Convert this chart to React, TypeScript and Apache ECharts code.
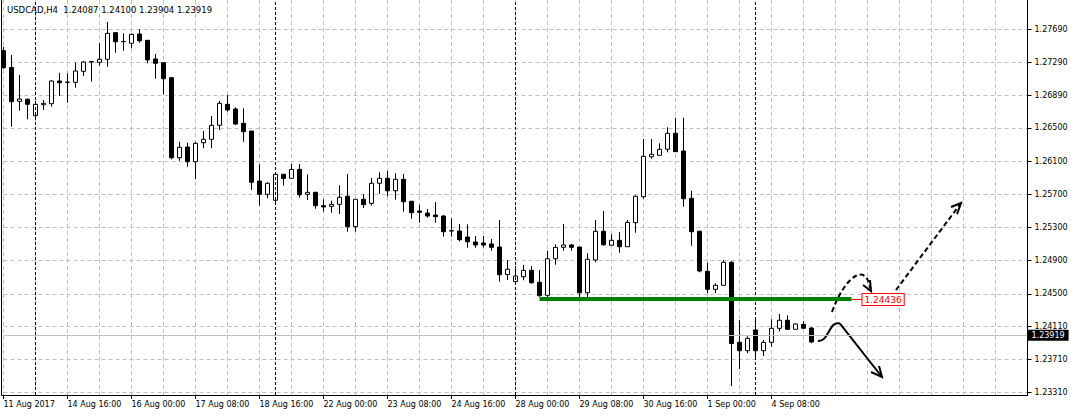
import { useEffect, useRef } from "react";
import * as echarts from "echarts";

// ---------------- data ----------------
const symbolName = "USDCAD,H4";
const firstBarUTC = Date.UTC(2017, 7, 11, 8); // 11 Aug 2017 08:00, H4 bars
const slotCount = 129; // bars + empty right margin (chart shift)

const opens = [
  1.27432, 1.2723, 1.26821, 1.26846, 1.26648, 1.2678, 1.26792, 1.27066, 1.2705, 1.2705,
  1.27183, 1.27295, 1.27292, 1.27328, 1.27649, 1.2754, 1.27521, 1.27633, 1.27557, 1.27332,
  1.27287, 1.27106, 1.26141, 1.2627, 1.26093, 1.26322, 1.26363, 1.26532, 1.26785, 1.26729,
  1.26556, 1.26463, 1.2586, 1.257, 1.25628, 1.25941, 1.25893, 1.26001, 1.257, 1.25724,
  1.25563, 1.25555, 1.25579, 1.25676, 1.25309, 1.2564, 1.25591, 1.25833, 1.25893, 1.25743,
  1.25881, 1.25616, 1.25499, 1.25474, 1.2545, 1.25438, 1.25261, 1.25257, 1.25185, 1.25125,
  1.25113, 1.25101, 1.25064, 1.24733, 1.24648, 1.24706, 1.24783, 1.24639, 1.24482, 1.24923,
  1.25061, 1.25089, 1.25064, 1.24513, 1.24908, 1.25254, 1.25085, 1.25145, 1.25068, 1.25358,
  1.25671, 1.26153, 1.2617, 1.26243, 1.26436, 1.26222, 1.25652, 1.25254, 1.24771, 1.24554,
  1.24603, 1.2488, 1.23915, 1.23814, 1.24064, 1.23814, 1.23915, 1.24084, 1.24181, 1.24072,
  1.24132, 1.24087,
];
const highs = [
  1.27476, 1.2738, 1.27139, 1.26855, 1.26825, 1.26837, 1.27078, 1.27166, 1.27159, 1.27287,
  1.27307, 1.27307, 1.27521, 1.27778, 1.27654, 1.27641, 1.27641, 1.2769, 1.27561, 1.27392,
  1.27295, 1.27115, 1.26334, 1.26322, 1.26334, 1.26463, 1.26644, 1.26825, 1.26897, 1.26749,
  1.26737, 1.26463, 1.26062, 1.25845, 1.25953, 1.25945, 1.26065, 1.26065, 1.25941, 1.25731,
  1.2564, 1.25623, 1.25809, 1.25945, 1.2564, 1.25704, 1.25897, 1.25965, 1.25981, 1.25953,
  1.25945, 1.25616, 1.25575, 1.25523, 1.25607, 1.2545, 1.25411, 1.25342, 1.25338, 1.25197,
  1.25197, 1.25161, 1.2539, 1.24908, 1.24835, 1.24851, 1.24835, 1.24787, 1.2502, 1.25097,
  1.25342, 1.25101, 1.25064, 1.24989, 1.2539, 1.25499, 1.25218, 1.25245, 1.2539, 1.25688,
  1.26367, 1.26367, 1.26315, 1.26508, 1.26624, 1.26624, 1.25743, 1.25261, 1.24875, 1.24627,
  1.24908, 1.24896, 1.24184, 1.23988, 1.24193, 1.23943, 1.24193, 1.24257, 1.24241, 1.24144,
  1.24172, 1.241,
];
const lows = [
  1.27211, 1.26515, 1.26708, 1.26604, 1.26608, 1.26717, 1.26756, 1.26885, 1.26805, 1.26985,
  1.27127, 1.27058, 1.27251, 1.27239, 1.27408, 1.27432, 1.27461, 1.27528, 1.2728, 1.27094,
  1.26906, 1.26122, 1.26105, 1.26033, 1.25881, 1.26255, 1.26255, 1.26475, 1.26696, 1.26536,
  1.26334, 1.25752, 1.25563, 1.25652, 1.25599, 1.25804, 1.25891, 1.25659, 1.25631, 1.25526,
  1.2549, 1.25478, 1.25462, 1.25249, 1.25249, 1.25535, 1.25563, 1.25704, 1.25676, 1.25635,
  1.2549, 1.25406, 1.25358, 1.25418, 1.25358, 1.25189, 1.25189, 1.25133, 1.25056, 1.25056,
  1.25061, 1.2502, 1.24646, 1.24667, 1.24618, 1.24663, 1.24622, 1.24465, 1.24434, 1.24851,
  1.2502, 1.2502, 1.24413, 1.24425, 1.2488, 1.2508, 1.25085, 1.24996, 1.25068, 1.25237,
  1.25647, 1.26129, 1.2617, 1.26206, 1.26214, 1.2555, 1.2508, 1.24759, 1.24506, 1.24506,
  1.24603, 1.23388, 1.23593, 1.23783, 1.23722, 1.2375, 1.23862, 1.24048, 1.24072, 1.24072,
  1.24084, 1.23904,
];
const closes = [
  1.27227, 1.26817, 1.26849, 1.26785, 1.26785, 1.26797, 1.27066, 1.27046, 1.27054, 1.27187,
  1.27295, 1.27301, 1.27328, 1.27641, 1.2754, 1.27543, 1.27629, 1.27552, 1.2732, 1.2728,
  1.27094, 1.26141, 1.26267, 1.26093, 1.26315, 1.26363, 1.26532, 1.26797, 1.26717, 1.26548,
  1.26455, 1.25845, 1.257, 1.25833, 1.25941, 1.25891, 1.25999, 1.25695, 1.25724, 1.25563,
  1.25547, 1.25579, 1.25664, 1.25309, 1.2564, 1.25575, 1.25833, 1.25893, 1.25743, 1.25881,
  1.25611, 1.25478, 1.25483, 1.25438, 1.2543, 1.25249, 1.25257, 1.25153, 1.25128, 1.25089,
  1.25089, 1.25061, 1.2473, 1.24797, 1.24715, 1.24783, 1.24634, 1.24477, 1.24923, 1.25061,
  1.25089, 1.25061, 1.24513, 1.24916, 1.25254, 1.25092, 1.25145, 1.25068, 1.25362, 1.25676,
  1.26158, 1.26182, 1.26243, 1.26436, 1.26214, 1.25647, 1.25249, 1.24775, 1.24554, 1.24603,
  1.2488, 1.23901, 1.23814, 1.23963, 1.23814, 1.23915, 1.24084, 1.24181, 1.24072, 1.24136,
  1.24084, 1.23919,
];

const timeTickLabels = [
  "11 Aug 2017", "14 Aug 16:00", "16 Aug 00:00", "17 Aug 08:00", "18 Aug 16:00",
  "22 Aug 00:00", "23 Aug 08:00", "24 Aug 16:00", "28 Aug 00:00", "29 Aug 08:00",
  "30 Aug 16:00", "1 Sep 00:00", "4 Sep 08:00",
];
const priceTickValues = [
  1.2331, 1.2371, 1.2411, 1.245, 1.249, 1.253, 1.257, 1.261, 1.265, 1.2689, 1.2729, 1.2769,
];
const periodSeparators = ["14 Aug 00:00", "21 Aug 00:00", "28 Aug 00:00", "4 Sep 00:00"];

const priceMin = 1.2328;
const priceMax = 1.28043;
const bidPrice = 1.23919;
const levelPrice = 1.24436;
const levelFromBar = 67;
const levelToBar = 106;

// hand-drawn annotations, in [bar index, price]
const hookCurve = [[103.56, 1.24281], [105.19, 1.24715], [107.81, 1.24884], [108.31, 1.2457]];
const hookHead = [[107.44, 1.24606], [108.44, 1.24534], [108.31, 1.24667]];
const upArrowLine = [[111.56, 1.24546], [119.69, 1.25595]];
const upArrowHead = [[118.44, 1.25547], [119.69, 1.25595], [119.19, 1.25462]];
const downCurve = [[101.81, 1.23931], [103.19, 1.23919], [103.19, 1.24184], [104.56, 1.24142]];
const downLine = [[104.56, 1.24142], [109.81, 1.23497]];
const downHead = [[108.44, 1.23557], [109.81, 1.23497], [109.44, 1.23629]];

// ---------------- helpers ----------------
const MONTHS = ["Jan", "Feb", "Mar", "Apr", "May", "Jun", "Jul", "Aug", "Sep", "Oct", "Nov", "Dec"];
function buildCategories(n: number): string[] {
  const out: string[] = [];
  let t = firstBarUTC;
  while (out.length < n) {
    const d = new Date(t);
    const wd = d.getUTCDay();
    if (wd !== 0 && wd !== 6) {
      const h = String(d.getUTCHours()).padStart(2, "0");
      out.push(`${d.getUTCDate()} ${MONTHS[d.getUTCMonth()]} ${h}:00`);
    }
    t += 4 * 3600 * 1000;
  }
  return out;
}
const categories = buildCategories(slotCount);
const FONT = "'DejaVu Sans', Verdana, sans-serif";

export default function App() {
  const ref = useRef<HTMLDivElement>(null);
  useEffect(() => {
    if (!ref.current) return;
    const chart = echarts.init(ref.current, undefined, { renderer: "svg" });
    const showTick = (i: number) => i % 8 === 0 && i / 8 < timeTickLabels.length;
    const option: any = {
      animation: false,
      backgroundColor: "#ffffff",
      grid: { left: 3.5, right: 43.5, top: 0, bottom: 21, containLabel: false },
      xAxis: {
        type: "category",
        data: categories,
        boundaryGap: false,
        axisLine: { show: true, lineStyle: { color: "#000", width: 1 } },
        axisTick: { show: true, interval: showTick, length: 4, lineStyle: { color: "#000" } },
        axisLabel: {
          interval: showTick,
          formatter: (_v: string, i: number) => timeTickLabels[i / 8] ?? "",
          align: "left",
          margin: 5,
          color: "#000",
          fontSize: 8,
          fontFamily: FONT,
        },
        splitLine: {
          show: true,
          interval: (i: number) => i % 4 === 0,
          lineStyle: { color: "#c0c0c0", type: [4, 3], width: 1 },
        },
      },
      yAxis: {
        type: "value",
        position: "right",
        min: priceMin,
        max: priceMax,
        scale: true,
        axisLine: { show: true, lineStyle: { color: "#000", width: 1 } },
        axisTick: {
          show: true,
          length: 4,
          customValues: priceTickValues,
          lineStyle: { color: "#000" },
        },
        axisLabel: {
          customValues: priceTickValues,
          formatter: (v: number) => v.toFixed(5),
          margin: 7,
          color: "#000",
          fontSize: 8,
          fontFamily: FONT,
        },
        splitLine: { show: true, lineStyle: { color: "#c0c0c0", type: [4, 3], width: 1 } },
      },
      series: [
        {
          type: "candlestick",
          data: opens.map((o, i) => [o, closes[i], lows[i], highs[i]]),
          barWidth: 4,
          itemStyle: {
            color: "#ffffff",
            color0: "#000000",
            borderColor: "#000000",
            borderColor0: "#000000",
            borderWidth: 1,
          },
          markLine: {
            silent: true,
            symbol: ["none", "none"],
            label: { show: false },
            data: [
              ...periodSeparators.map((s) => ({
                xAxis: s,
                lineStyle: { color: "#000", type: [3, 2], width: 1 },
              })),
              {
                yAxis: bidPrice,
                lineStyle: { color: "#c0c0c0", type: "solid", width: 1 },
                label: {
                  show: true,
                  position: "end",
                  distance: 0,
                  formatter: bidPrice.toFixed(5),
                  backgroundColor: "#000",
                  color: "#fff",
                  padding: [2, 4, 1, 4],
                  fontSize: 8,
                  fontFamily: FONT,
                },
              },
              [
                {
                  coord: [categories[levelFromBar], levelPrice],
                  lineStyle: { color: "#008000", type: "solid", width: 4 },
                },
                { coord: [categories[levelToBar], levelPrice] },
              ],
            ],
          },
        },
      ],
    };
    chart.setOption(option);

    const x0 = chart.convertToPixel({ xAxisIndex: 0 }, 0) as number;
    const x1 = chart.convertToPixel({ xAxisIndex: 0 }, 1) as number;
    const px = (b: number) => x0 + (x1 - x0) * b;
    const py = (p: number) => chart.convertToPixel({ yAxisIndex: 0 }, p) as number;
    const pt = (a: number[]) => [px(a[0]), py(a[1])];

    const bez = (c: number[][], dash: number[] | null) => {
      const [a, b, cc, d] = c.map(pt);
      return {
        type: "bezierCurve",
        shape: { x1: a[0], y1: a[1], cpx1: b[0], cpy1: b[1], cpx2: cc[0], cpy2: cc[1], x2: d[0], y2: d[1] },
        style: { stroke: "#000", lineWidth: 2, fill: "none", lineDash: dash || undefined },
        silent: true,
      };
    };
    const poly = (c: number[][], dash: number[] | null) => ({
      type: "polyline",
      shape: { points: c.map(pt) },
      style: { stroke: "#000", lineWidth: 2, fill: "none", lineDash: dash || undefined },
      silent: true,
    });

    const lx = px(levelToBar);
    const ly = py(levelPrice);
    const last = opens.length - 1;
    const header = `${symbolName}  ${opens[last].toFixed(5)} ${highs[last].toFixed(5)} ${lows[last].toFixed(5)} ${closes[last].toFixed(5)}`;
    const bottomY = py(priceMin);

    chart.setOption({
      graphic: [
        {
          type: "polyline",
          shape: { points: [[1.5, 0], [1.5, Math.round(bottomY) + 0.5], [4, Math.round(bottomY) + 0.5]] },
          style: { stroke: "#000", lineWidth: 1, fill: "none" },
          silent: true,
        },
        {
          type: "text",
          x: 7,
          y: 10,
          style: { text: header, fontSize: 8.5, fontFamily: FONT, fill: "#000", verticalAlign: "middle" },
          silent: true,
        },
        bez(hookCurve, [5, 3]),
        poly(hookHead, null),
        poly(upArrowLine, [5, 3]),
        poly(upArrowHead, null),
        bez(downCurve, null),
        poly(downLine, null),
        poly(downHead, null),
        {
          type: "line",
          shape: { x1: lx, y1: Math.round(ly) + 0.5, x2: lx + 11, y2: Math.round(ly) + 0.5 },
          style: { stroke: "#ff0000", lineWidth: 1 },
          silent: true,
        },
        {
          type: "text",
          x: lx + 11,
          y: Math.round(ly) + 0.5,
          style: {
            text: levelPrice.toFixed(5),
            fontSize: 9,
            fontFamily: FONT,
            fill: "#ff0000",
            verticalAlign: "middle",
            backgroundColor: "#ffffff",
            borderColor: "#ff0000",
            borderWidth: 1,
            padding: [1, 2, 1, 2],
          },
          silent: true,
        },
      ],
    });

    return () => chart.dispose();
  }, []);
  return (
    <div
      ref={ref}
      style={{ position: "fixed", left: 0, top: 0, width: 1071, height: 416, background: "#fff" }}
    />
  );
}
